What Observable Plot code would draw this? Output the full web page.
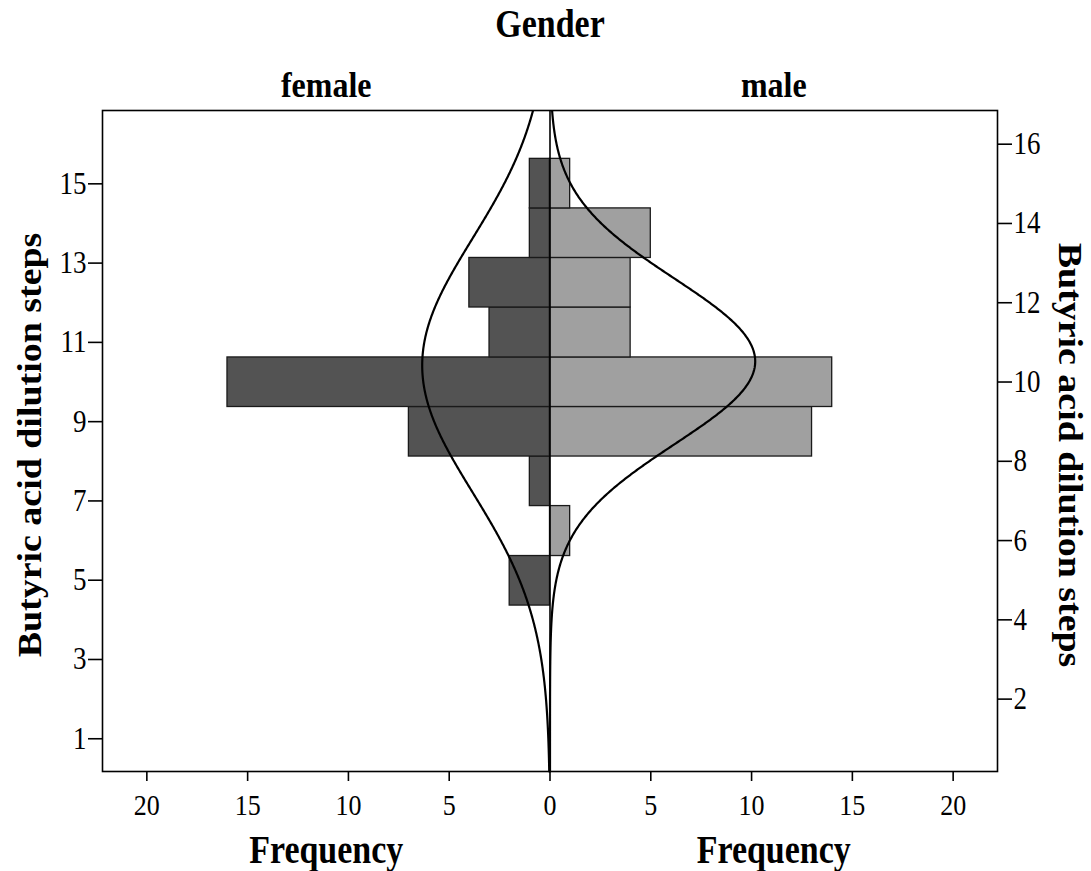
<!DOCTYPE html>
<html>
<head>
<meta charset="utf-8">
<script src="https://cdn.jsdelivr.net/npm/d3@7"></script>
<script src="https://cdn.jsdelivr.net/npm/@observablehq/plot@0.6"></script>
<style>
  html, body { margin: 0; padding: 0; background: #fff; }
</style>
</head>
<body>
<div id="chart"></div>
<script>
// ---- data ----
// histogram bin edges on the "Butyric acid dilution steps" axis (bottom to top)
const binEdges = [4.36, 5.61, 6.87, 8.12, 9.37, 10.62, 11.88, 13.13, 14.38, 15.63];
// frequencies per bin (bottom to top)
const femaleCounts = [2, 0, 1, 7, 16, 3, 4, 1, 1];
const maleCounts   = [0, 1, 0, 13, 14, 4, 4, 5, 1];
// fitted normal curves (mean, sd, peak frequency)
const femaleFit = { mean: 10.42, sd: 3.2, peak: 6.34 };
const maleFit   = { mean: 10.52, sd: 2.09, peak: 10.18 };
// axis ticks
const freqTicks = [-20, -15, -10, -5, 0, 5, 10, 15, 20];
const leftTicks = [1, 3, 5, 7, 9, 11, 13, 15];
const rightTicks = [2, 4, 6, 8, 10, 12, 14, 16];
const xDomain = [-22.2, 22.2];
const yDomain = [0.174, 16.85];
const groupLabels = ["female", "male"];

// ---- tables built from the arrays ----
const bars = [];
femaleCounts.forEach((c, i) => { if (c > 0) bars.push({ lo: binEdges[i], hi: binEdges[i + 1], x1: 0, x2: -c, g: "female" }); });
maleCounts.forEach((c, i) => { if (c > 0) bars.push({ lo: binEdges[i], hi: binEdges[i + 1], x1: 0, x2: c, g: "male" }); });

function normalCurve(fit, sign) {
  const pts = [];
  for (let y = yDomain[0]; y <= yDomain[1] + 1e-9; y += 0.02) {
    const z = (y - fit.mean) / fit.sd;
    pts.push({ y, x: sign * fit.peak * Math.exp(-0.5 * z * z) });
  }
  return pts;
}
const femaleCurve = normalCurve(femaleFit, -1);
const maleCurve = normalCurve(maleFit, 1);

const serif = "'Liberation Serif', 'Times New Roman', 'DejaVu Serif', serif";

const plot = Plot.plot({
  width: 1091,
  height: 871,
  marginLeft: 102,
  marginRight: 94,
  marginTop: 110,
  marginBottom: 100,
  style: { fontFamily: serif, fontSize: "26px", background: "#fff", color: "#000", overflow: "visible" },
  x: { domain: xDomain },
  y: { domain: yDomain },
  marks: [
    Plot.rect(bars.filter(d => d.g === "female"), {
      x1: "x1", x2: "x2", y1: "lo", y2: "hi",
      fill: "#535353", stroke: "#1a1a1a", strokeWidth: 1.3
    }),
    Plot.rect(bars.filter(d => d.g === "male"), {
      x1: "x1", x2: "x2", y1: "lo", y2: "hi",
      fill: "#a0a0a0", stroke: "#1a1a1a", strokeWidth: 1.3
    }),
    Plot.ruleX([0], { stroke: "#000", strokeWidth: 1.6 }),
    Plot.line(femaleCurve, { x: "x", y: "y", stroke: "#000", strokeWidth: 2.2 }),
    Plot.line(maleCurve, { x: "x", y: "y", stroke: "#000", strokeWidth: 2.2 }),
    Plot.frame({ stroke: "#000", strokeWidth: 1.6 }),
    Plot.axisX({ ticks: freqTicks, tickFormat: d => Math.abs(d), tickSize: 10, tickPadding: 12, label: null, fontSize: 26, strokeWidth: 1.6 }),
    Plot.axisY({ anchor: "left", ticks: leftTicks, tickSize: 14, tickPadding: 2, label: null, fontSize: 27, strokeWidth: 1.6 }),
    Plot.axisY({ anchor: "right", ticks: rightTicks, tickSize: 14, tickPadding: 2, label: null, fontSize: 27, strokeWidth: 1.6 }),
    // titles
    Plot.text(["Gender"], { frameAnchor: "top", text: d => d, dy: -86, lineAnchor: "middle", fontSize: 34, fontWeight: "bold" }),
    Plot.text(groupLabels, { x: (d, i) => (i === 0 ? xDomain[0] : xDomain[1]) / 2, frameAnchor: "top", text: d => d, dy: -25, lineAnchor: "middle", fontSize: 32, fontWeight: "bold" }),
    Plot.text(["Frequency", "Frequency"], { x: (d, i) => (i === 0 ? xDomain[0] : xDomain[1]) / 2, frameAnchor: "bottom", text: d => d, dy: 79, lineAnchor: "middle", fontSize: 34, fontWeight: "bold" }),
    Plot.text(["Butyric acid dilution steps"], { frameAnchor: "left", text: d => d, textAnchor: "middle", dx: -72, dy: 4, rotate: -90, lineAnchor: "middle", fontSize: 33, fontWeight: "bold" }),
    Plot.text(["Butyric acid dilution steps"], { frameAnchor: "right", text: d => d, textAnchor: "middle", dx: 72, dy: 14, rotate: 90, lineAnchor: "middle", fontSize: 33, fontWeight: "bold" })
  ]
});

// the reference's lettering is vertically stretched: reproduce it
const SY = 1.15;
plot.querySelectorAll("text").forEach(t => {
  let ay = 0;
  const tr = t.getAttribute("transform");
  const m = tr && tr.match(/translate\(\s*([-\d.e]+)[ ,]\s*([-\d.e]+)/);
  if (m) ay = +m[2];
  else if (t.getAttribute("y") != null) ay = parseFloat(t.getAttribute("y")) || 0;
  const g = document.createElementNS("http://www.w3.org/2000/svg", "g");
  g.setAttribute("transform", `translate(0,${ay}) scale(1,${SY}) translate(0,${-ay})`);
  t.parentNode.insertBefore(g, t);
  g.appendChild(t);
});

document.getElementById("chart").appendChild(plot);
</script>
</body>
</html>
